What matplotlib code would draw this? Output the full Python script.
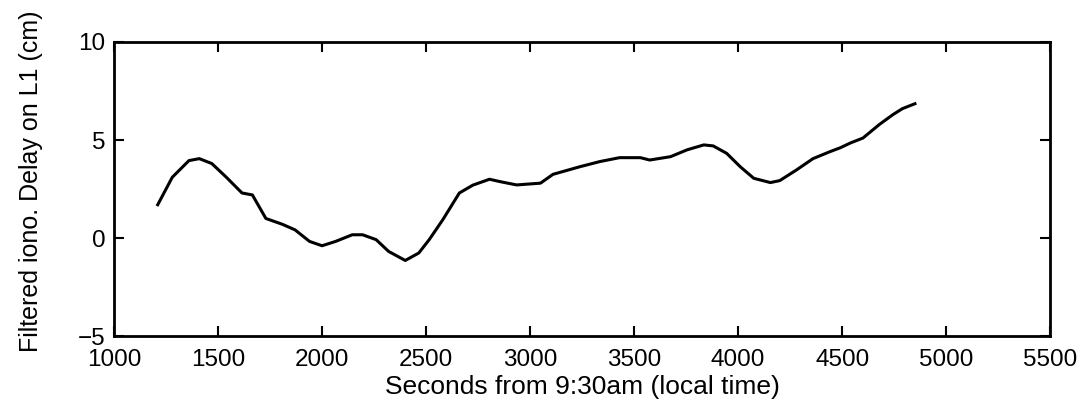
import numpy as np
import matplotlib.pyplot as plt

# --- data ---
seconds = [1210, 1280, 1360, 1410, 1470, 1540, 1615, 1665, 1730, 1810, 1870,
           1940, 2000, 2065, 2145, 2195, 2260, 2320, 2400, 2465, 2515, 2580,
           2660, 2725, 2805, 2855, 2935, 3050, 3110, 3240, 3335, 3430, 3530,
           3575, 3675, 3755, 3835, 3880, 3945, 4010, 4075, 4155, 4200, 4280,
           4360, 4440, 4490, 4540, 4600, 4680, 4745, 4790, 4850]
delay = [1.7, 3.1, 3.95, 4.05, 3.8, 3.1, 2.3, 2.2, 1.0, 0.7, 0.42,
         -0.17, -0.39, -0.17, 0.17, 0.17, -0.08, -0.68, -1.14, -0.76, -0.08, 0.93,
         2.3, 2.7, 3.0, 2.88, 2.71, 2.8, 3.25, 3.64, 3.9, 4.1, 4.1,
         3.98, 4.15, 4.5, 4.75, 4.7, 4.32, 3.64, 3.05, 2.83, 2.93, 3.47,
         4.05, 4.4, 4.6, 4.85, 5.1, 5.8, 6.3, 6.6, 6.85]

x_ticks = [1000, 1500, 2000, 2500, 3000, 3500, 4000, 4500, 5000, 5500]
y_ticks = [-5, 0, 5, 10]

plt.rcParams['font.family'] = ['Liberation Sans', 'DejaVu Sans']

fig = plt.figure(figsize=(10.86, 4.07), dpi=100)
# axes box: x 114..1050 px, y 42..336 px
ax = fig.add_axes([0.105, 0.174, 0.862, 0.723])

ax.plot(seconds, delay, color='black', linewidth=2.2)

ax.set_xlim(1000, 5500)
ax.set_ylim(-5, 10)
ax.set_xticks(x_ticks)
ax.set_yticks(y_ticks)
ax.tick_params(direction='in', length=7, width=1.5, top=True, right=True,
               labelsize=17.5, colors='black')
ax.tick_params(axis='x', pad=9)
ax.tick_params(axis='y', pad=6)
for s in ax.spines.values():
    s.set_linewidth(2.0)
    s.set_color('black')

ax.set_xlabel('Seconds from 9:30am (local time)', fontsize=19, labelpad=3)
ax.set_ylabel('Filtered iono. Delay on L1 (cm)', fontsize=18)
ax.yaxis.set_label_coords(-0.076, 0.527)

plt.savefig('out.png', dpi=100)
